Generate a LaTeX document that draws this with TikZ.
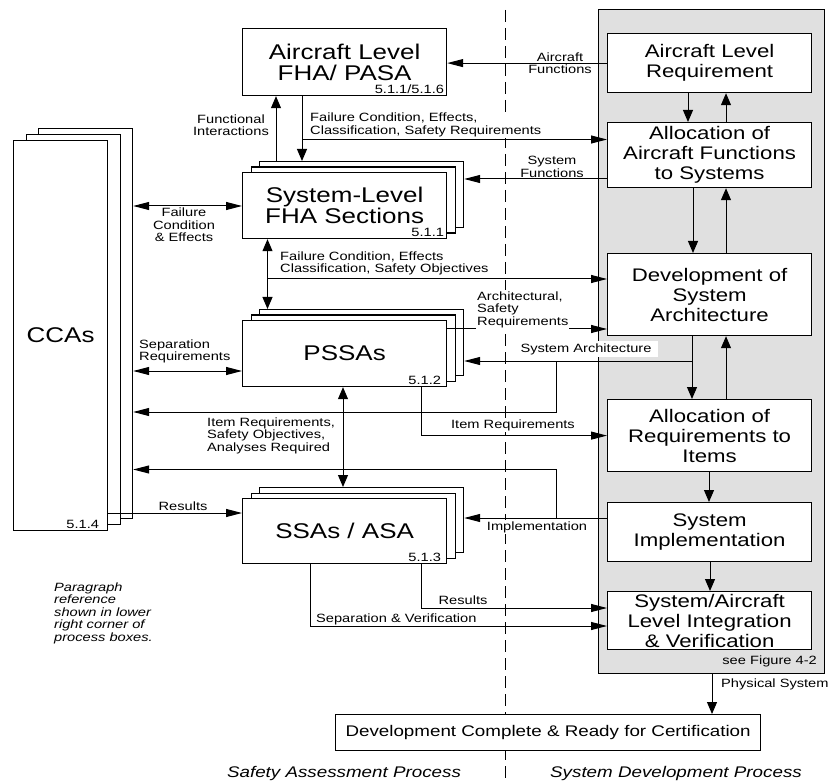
\documentclass[tikz,border=0pt]{standalone}
\usepackage{fontspec}
\setmainfont{Liberation Sans}[FakeStretch=1.22]
\usetikzlibrary{arrows.meta,calc}
\definecolor{panelgray}{RGB}{224,224,224}
\newcommand\fBig{\fontsize{21.3}{21}\selectfont}
\newcommand\fRight{\fontsize{18.2}{20}\selectfont}
\newcommand\fLbl{\fontsize{12}{12.5}\selectfont}
\newcommand\fFoot{\fontsize{15.4}{17}\selectfont}
\tikzset{
  pbox/.style={draw, fill=white, line width=1.2pt, anchor=north west, inner sep=0pt, align=center},
  bigbox/.style={pbox, font=\fBig, minimum width=204pt},
  rbox/.style={pbox, font=\fRight, minimum width=204pt},
  layer/.style={pbox, minimum width=204pt},
  reftxt/.style={font=\fLbl, inner sep=0pt, anchor=south east},
  lbl/.style={font=\fLbl, inner sep=1pt},
  lblw/.style={lbl, fill=white},
  conn/.style={line width=1pt},
  arrH/.style={conn, -{Triangle[length=16pt,width=8pt]}},
  arrV/.style={conn, -{Triangle[length=12pt,width=10pt]}},
  dblH/.style={conn, {Triangle[length=16pt,width=8pt]}-{Triangle[length=16pt,width=8pt]}},
  dblV/.style={conn, {Triangle[length=12pt,width=10pt]}-{Triangle[length=12pt,width=10pt]}},
}
\begin{document}
\begin{tikzpicture}[x=1pt,y=-1pt]
\useasboundingbox (0,0) rectangle (832,783);

% gray panel and dashed divider
\node[pbox, fill=panelgray, minimum width=226pt, minimum height=664pt] (panel) at (598,9) {};
\coordinate (dtop) at (505,10);
\coordinate (dbot) at (505,783);
\draw[line width=1pt, dash pattern=on 12pt off 6pt] (dtop) -- (dbot);

% right column
\node[rbox, minimum height=59pt] (arl) at (607,33) {Aircraft Level\\Requirement};
\node[rbox, minimum height=65pt] (alloc) at (607,122) {Allocation of\\Aircraft Functions\\to Systems};
\node[rbox, minimum height=82pt] (dev) at (607,253) {Development of\\System\\Architecture};
\node[rbox, minimum height=72pt] (areq) at (607,399) {Allocation of\\Requirements to\\Items};
\node[rbox, minimum height=59pt] (impl) at (607,502) {System\\Implementation};
\node[rbox, minimum height=58pt] (integ) at (607,591) {System/Aircraft\\Level Integration\\\& Verification};
\node[reftxt] (seefig) at (817,667) {see Figure 4-2};

% left: aircraft FHA
\node[bigbox, minimum height=67pt] (fha) at (242,28) {Aircraft Level\\FHA/ PASA};
\node[reftxt] (fharef) at ([shift={(-3,-2)}]fha.south east) {5.1.1/5.1.6};

% system FHA stack
\node[layer, minimum height=66pt] (sfhaB) at (259,161) {};
\node[layer, minimum height=66pt] (sfhaM) at (250.5,166.5) {};
\node[bigbox, minimum height=66pt] (sfhaF) at (242,172) {System-Level\\FHA Sections};
\node[reftxt] (sfharef) at ([shift={(-3,-2)}]sfhaF.south east) {5.1.1};

% PSSA stack
\node[layer, minimum height=66pt] (pssaB) at (259,309) {};
\node[layer, minimum height=66pt] (pssaM) at (250.5,314.5) {};
\node[bigbox, minimum height=66pt] (pssaF) at (242,320) {PSSAs};
\node[reftxt] (pssaref) at ([shift={(-6,-2)}]pssaF.south east) {5.1.2};

% SSA stack
\node[layer, minimum height=65pt] (ssaB) at (259,487) {};
\node[layer, minimum height=65pt] (ssaM) at (250.5,492.5) {};
\node[bigbox, minimum height=65pt] (ssaF) at (242,498) {SSAs / ASA};
\node[reftxt] (ssaref) at ([shift={(-6,-2)}]ssaF.south east) {5.1.3};

% CCA stack
\node[pbox, minimum width=94pt, minimum height=390pt] (ccaB) at (38,128) {};
\node[pbox, minimum width=94pt, minimum height=390pt] (ccaM) at (25.5,134) {};
\node[pbox, font=\fBig, minimum width=94pt, minimum height=390pt] (ccaF) at (13,140) {CCAs};
\node[reftxt] (ccaref) at ([shift={(-9,-2)}]ccaF.south east) {5.1.4};

% final box
\node[pbox, font=\fFoot, minimum width=425pt, minimum height=36pt] (final) at (335,714) {Development Complete \& Ready for Certification};

% helper coordinates
\coordinate (x267) at (267.5,0);
\coordinate (x276) at (276,0);
\coordinate (x302) at (302,0);
\coordinate (x310) at (310,0);
\coordinate (x343) at (343,0);
\coordinate (x421) at (421,0);
\coordinate (x688) at (688,0);
\coordinate (x693) at (693,0);
\coordinate (x692) at (692,0);
\coordinate (x709) at (709,0);
\coordinate (x710) at (710,0);
\coordinate (x712) at (712,0);
\coordinate (x726) at (726,0);
\coordinate (y179) at (0,179);
\coordinate (y206) at (0,206);
\coordinate (y329) at (0,329);
\coordinate (y371) at (0,371);
\coordinate (y513) at (0,513);
\coordinate (y518) at (0,518);
\coordinate (y608) at (0,608);
\coordinate (y626) at (0,626);

% right column vertical flow
\draw[arrV] (x688 |- arl.south) -- (x688 |- alloc.north);
\draw[arrV] (x726 |- alloc.north) -- (x726 |- arl.south);
\draw[arrV] (x693 |- alloc.south) -- (x693 |- dev.north);
\draw[arrV] (x726 |- dev.north) -- (x726 |- alloc.south);
\draw[arrV] (x692 |- dev.south) -- (x692 |- areq.north);
\draw[arrV] (x726 |- areq.north) -- (x726 |- dev.south);
\draw[arrV] (x709 |- areq.south) -- (x709 |- impl.north);
\draw[arrV] (x710 |- impl.south) -- (x710 |- integ.north);
\draw[arrV] (x712 |- panel.south) -- (x712 |- final.north);

% aircraft level
\draw[arrH] (arl.west) -- (arl.west -| fha.east);
\draw[arrV] (x276 |- sfhaB.north) -- (x276 |- fha.south);
\draw[arrV] (x302 |- fha.south) -- (x302 |- sfhaB.north);
\coordinate (j1) at (302,139.5);
\draw[arrH] (j1) -- (j1 -| alloc.west);
\draw[arrH] (alloc.west |- y179) -- (sfhaB.east |- y179);

% system FHA level
\draw[dblH] (ccaB.east |- y206) -- (sfhaF.west |- y206);
\draw[dblV] (x267 |- sfhaF.south) -- (x267 |- pssaB.north);
\coordinate (j2) at (267.5,279);
\draw[arrH] (j2) -- (j2 -| dev.west);

% PSSA level
\draw[arrH] (pssaF.east |- y329) -- (dev.west |- y329);
\coordinate (j3) at (692,361);
\draw[arrH] (j3) -- (j3 -| pssaB.east);
\coordinate (j4) at (556,361);
\coordinate (j5) at (556,412);
\draw[arrH] (j4) -- (j5) -- (j5 -| ccaB.east);
\draw[dblH] (ccaB.east |- y371) -- (pssaF.west |- y371);
\draw[arrH] (x421 |- pssaF.south) |- (areq.west);
\draw[dblV] (x343 |- pssaF.south) -- (x343 |- ssaB.north);

% SSA level
\draw[arrH] (impl.west |- y518) -- (ssaB.east |- y518);
\coordinate (j6) at (556,518);
\coordinate (j7) at (556,469.5);
\draw[arrH] (j6) -- (j7) -- (j7 -| ccaB.east);
\draw[arrH] (ccaF.east |- y513) -- (ssaF.west |- y513);
\draw[arrH] (x421 |- ssaF.south) |- (integ.west |- y608);
\draw[arrH] (x310 |- ssaF.south) |- (integ.west |- y626);

% labels
\node[lbl, align=center] (lAF) at (560,63) {Aircraft\\Functions};
\node[lbl, align=center] (lFI) at (231,125) {Functional\\Interactions};
\node[lblw, align=left, anchor=west] (lFC1) at (309,125) {Failure Condition, Effects,\\Classification, Safety Requirements};
\node[lbl, align=center] (lSF) at (552,167) {System\\Functions};
\node[lbl, align=center] (lFCE) at (184,225) {Failure\\Condition\\\& Effects};
\node[lbl, align=left, anchor=west] (lFC2) at (279,263.5) {Failure Condition, Effects\\Classification, Safety Objectives};
\node[lblw, align=left, anchor=west] (lAS) at (476,309.5) {Architectural,\\Safety\\Requirements};
\node[lbl, fill=white, inner xsep=6pt, inner ysep=2pt] (lSA) at (586,349) {System Architecture};
\node[lbl, align=left, anchor=west] (lSR) at (138,351.5) {Separation\\Requirements};
\node[lblw] (lIR) at (513,425) {Item Requirements};
\node[lbl, align=left, anchor=west] (lIRS) at (206,435.5) {Item Requirements,\\Safety Objectives,\\Analyses Required};
\node[lbl] (lR1) at (183,506) {Results};
\node[lblw] (lImp) at (537,527) {Implementation};
\node[lbl] (lR2) at (463,600) {Results};
\node[lbl, anchor=west] (lSV) at (315,619) {Separation \& Verification};
\node[lbl, anchor=west] (lPS) at (720,684) {Physical System};
\node[lbl, align=left, anchor=west, font=\fLbl\itshape] (note) at (53,613) {Paragraph\\reference\\shown in lower\\right corner of\\process boxes.};
\node[inner sep=0pt, font=\fFoot\itshape] (sap) at (344,774) {Safety Assessment Process};
\node[inner sep=0pt, font=\fFoot\itshape] (sdp) at (676,774) {System Development Process};
\end{tikzpicture}
\end{document}
